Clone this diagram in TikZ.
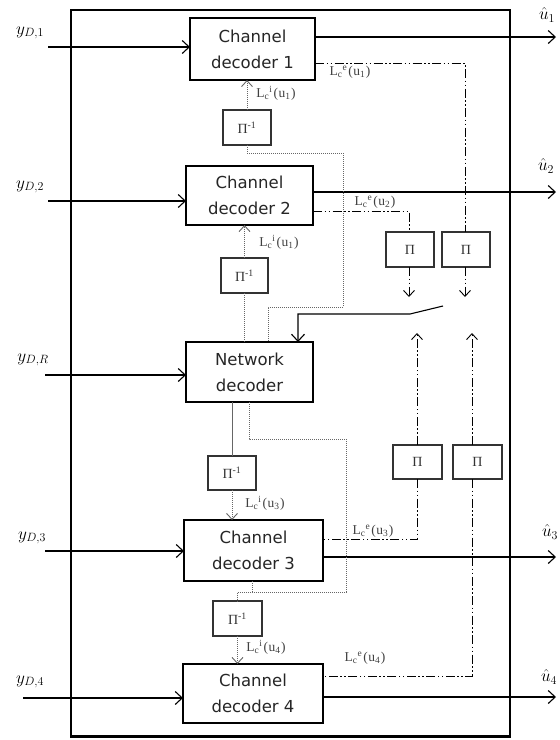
\documentclass[tikz,border=0pt]{standalone}
\usepackage{fontspec}
\newfontfamily\boxfont{DejaVu Sans}
\newfontfamily\labfont{Liberation Serif}
\usetikzlibrary{arrows.meta}
\newcommand\Lci[1]{L\textsubscript{c}\textsuperscript{i}\hspace{1pt}(\hspace{0.5pt}u\textsubscript{#1}\hspace{0.5pt})}
\newcommand\Lce[1]{L\textsubscript{c}\textsuperscript{e}\hspace{1pt}(\hspace{0.5pt}u\textsubscript{#1}\hspace{0.5pt})}
\begin{document}
\begin{tikzpicture}[x=1pt,y=-1pt,
  dec/.style={draw, line width=2.4pt, anchor=north west, inner sep=0pt, outer sep=0pt,
    align=center, font=\boxfont\fontsize{16.5}{26}\selectfont, text=black!85},
  pibox/.style={draw=black!80, line width=1.1pt, anchor=north west, inner sep=0pt, outer sep=0pt,
    font=\labfont\fontsize{14}{16}\selectfont, text=black!80},
  sig/.style={line width=1.1pt, -{Straight Barb[length=7pt,width=13pt]}},
  dd/.style={line width=0.9pt, dash pattern=on 9pt off 2.5pt on 1.5pt off 2.5pt on 1.5pt off 2.5pt},
  dda/.style={dd, -{Straight Barb[length=6pt,width=11pt]}},
  dotl/.style={line width=0.9pt, black!60, dash pattern=on 1pt off 1pt},
  dota/.style={dotl, -{Straight Barb[length=6pt,width=11pt]}},
  lab/.style={font=\labfont\fontsize{13.5}{15}\selectfont, text=black!75, inner sep=0pt},
  inl/.style={font=\fontsize{17}{19}\selectfont, inner sep=0pt}
]
\useasboundingbox (0,0) rectangle (560,740);
\fill[white] (0,0) rectangle (560,740);
\draw[line width=2.4pt] (71,10) rectangle (510,736.5);

% decoders
\node[dec, minimum width=125pt, minimum height=62pt] (cd1) at (190,18) {Channel\\decoder 1};
\node[dec, minimum width=127pt, minimum height=59pt] (cd2) at (186,166) {Channel\\decoder 2};
\node[dec, minimum width=127pt, minimum height=60pt] (nd) at (186,342) {Network\\decoder};
\node[dec, minimum width=139pt, minimum height=61pt] (cd3) at (184,520) {Channel\\decoder 3};
\node[dec, minimum width=140pt, minimum height=59pt] (cd4) at (183,664) {Channel\\decoder 4};

% interleavers
\node[pibox, minimum width=48pt, minimum height=35pt] (pi1) at (223,110) {Π\textsuperscript{-1}};
\node[pibox, minimum width=47pt, minimum height=35pt] (pi2) at (221,258) {Π\textsuperscript{-1}};
\node[pibox, minimum width=48pt, minimum height=34pt] (pi3) at (208,456) {Π\textsuperscript{-1}};
\node[pibox, minimum width=49pt, minimum height=35pt] (pi4) at (213,601) {Π\textsuperscript{-1}};
\node[pibox, minimum width=48pt, minimum height=35pt] (pa) at (386,232) {Π};
\node[pibox, minimum width=48pt, minimum height=35pt] (pb) at (442,232) {Π};
\node[pibox, minimum width=49pt, minimum height=34pt] (pc) at (393,445) {Π};
\node[pibox, minimum width=49pt, minimum height=34pt] (pd) at (453,445) {Π};

% inputs
\coordinate (in1) at (48,47);
\coordinate (in2) at (48,201);
\coordinate (inR) at (45,375);
\coordinate (in3) at (45,551);
\coordinate (in4) at (23,698);
\draw[sig] (in1) -- (in1 -| cd1.west);
\draw[sig] (in2) -- (in2 -| cd2.west);
\draw[sig] (inR) -- (inR -| nd.west);
\draw[sig] (in3) -- (in3 -| cd3.west);
\draw[sig] (in4) -- (in4 -| cd4.west);
\node[inl] (ly1) at (30,33) {$y_{D,1}$};
\node[inl] (ly2) at (30,187) {$y_{D,2}$};
\node[inl] (lyR) at (33,360) {$y_{D,R}$};
\node[inl] (ly3) at (32,538) {$y_{D,3}$};
\node[inl] (ly4) at (30,682) {$y_{D,4}$};

% outputs
\coordinate (out1) at (556,37);
\coordinate (out2) at (556,192);
\coordinate (out3) at (556,557);
\coordinate (out4) at (556,697);
\draw[sig] (cd1.east |- out1) -- (out1);
\draw[sig] (cd2.east |- out2) -- (out2);
\draw[sig] (cd3.east |- out3) -- (out3);
\draw[sig] (cd4.east |- out4) -- (out4);
\node[inl] (lu1) at (547,15) {$\hat{u}_1$};
\node[inl] (lu2) at (546,166) {$\hat{u}_2$};
\node[inl] (lu3) at (550,532) {$\hat{u}_3$};
\node[inl] (lu4) at (549,677) {$\hat{u}_4$};

% extrinsic (dash-dot) paths
\coordinate (e1) at (0,63);
\coordinate (e2) at (0,211);
\coordinate (e3) at (0,539);
\coordinate (e4) at (0,676);
\coordinate (xb) at (465,0);
\coordinate (xa) at (409,0);
\coordinate (xc) at (417,0);
\coordinate (xd) at (472,0);
\coordinate (ta) at (0,297);
\coordinate (tu) at (0,333);
\draw[dd] (cd1.east |- e1) -| (pb.north -| xb);
\draw[dd] (cd2.east |- e2) -| (pa.north -| xa);
\draw[dda] (pa.south -| xa) -- (ta -| xa);
\draw[dda] (pb.south -| xb) -- (ta -| xb);
\draw[dda] (pc.north -| xc) -- (tu -| xc);
\draw[dda] (pd.north -| xd) -- (tu -| xd);
\draw[dd] (pc.south -| xc) |- (cd3.east |- e3);
\draw[dd] (pd.south -| xd) |- (cd4.east |- e4);

% switch
\coordinate (s1) at (443,306);
\coordinate (s2) at (410,314);
\coordinate (x298) at (298,0);
\draw[sig] (s1) -- (s2) -| (nd.north -| x298);

% intrinsic (dotted) paths
\coordinate (d1) at (343,153);
\coordinate (d2) at (343,307);
\coordinate (x268) at (268,0);
\draw[dota] (pi1.north) -- (cd1.south -| pi1.north);
\draw[dotl] (pi1.south) |- (d1) -- (d2) -| (nd.north -| x268);
\draw[dota] (pi2.north) -- (cd2.south -| pi2.north);
\draw[dotl] (pi2.south) -- (nd.north -| pi2.south);
\draw[line width=0.9pt, black!60] (nd.south -| pi3.north) -- (pi3.north);
\draw[dota] (pi3.south) -- (cd3.north -| pi3.south);
\coordinate (x249) at (249,0);
\coordinate (x252) at (252,0);
\coordinate (d3) at (346,439);
\coordinate (d4) at (346,592);
\draw[dotl] (nd.south -| x249) |- (d3) -- (d4) -| (pi4.north);
\draw[dotl] (cd3.south -| x252) -- (d4 -| x252);
\draw[dota] (pi4.south) -- (cd4.north -| pi4.south);

% labels
\node[lab] (li1) at (276,93) {\Lci{1}};
\node[lab] (le1) at (350,72) {\Lce{1}};
\node[lab] (le2) at (375,202) {\Lce{2}};
\node[lab] (li2) at (279,242) {\Lci{1}};
\node[lab] (li3) at (265,503) {\Lci{3}};
\node[lab] (le3) at (373,531) {\Lce{3}};
\node[lab] (li4) at (266,647) {\Lci{4}};
\node[lab] (le4) at (365,658) {\Lce{4}};
\end{tikzpicture}
\end{document}
